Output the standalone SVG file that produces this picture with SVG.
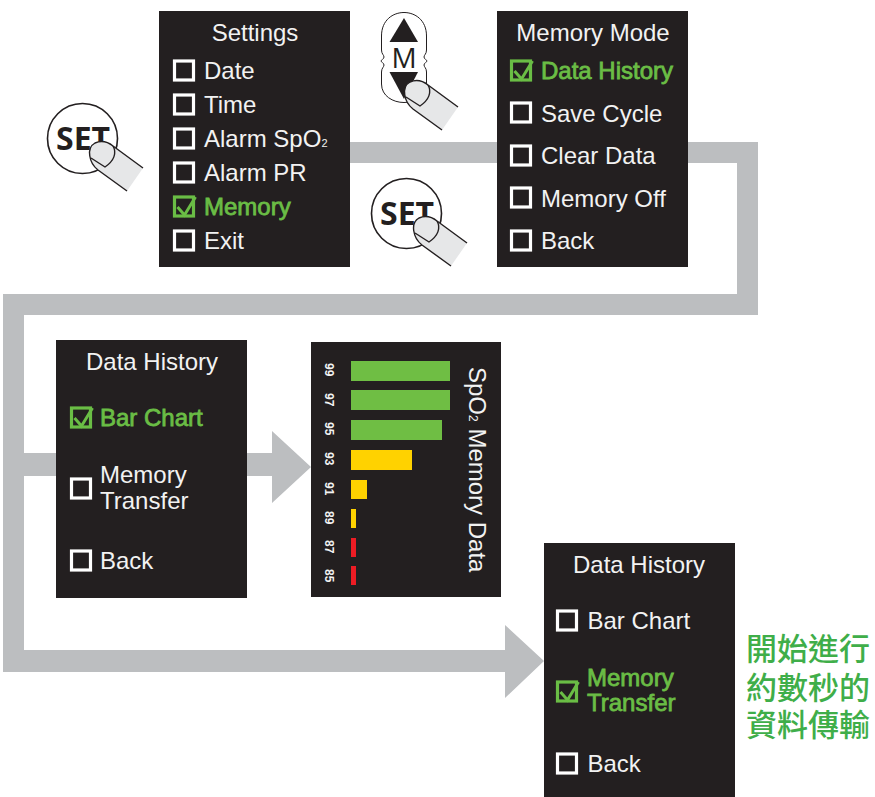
<svg xmlns="http://www.w3.org/2000/svg" width="875" height="797" viewBox="0 0 875 797">
<style>
text{font-family:"Liberation Sans",Arial,sans-serif;fill:#f2f2f2;font-size:24px}
.g{fill:#6abd45;stroke:#6abd45;stroke-width:.8}
.panel{fill:#231f20}
.cb{fill:none;stroke:#fff;stroke-width:3.2}
.cbg{fill:none;stroke:#6abd45;stroke-width:3.2}
.chk{fill:none;stroke:#6abd45;stroke-width:3}
.flow{fill:#bcbec0}
.btn{fill:#fff;stroke:#231f20;stroke-width:1.6}
.fng{fill:#e6e7e8}
.ln{fill:none;stroke:#231f20;stroke-width:1.4}
.set{font-family:"Open Sans","Liberation Sans",sans-serif;font-weight:bold;font-size:32px;fill:#231f20}
.mkey{font-family:"Open Sans","Liberation Sans",sans-serif;font-size:28px;fill:#231f20}
.cjk{font-family:"Noto Sans CJK TC",sans-serif;font-size:31px;font-weight:500;fill:#3fae49}
.num{font-size:12px;font-weight:bold}
.sub{font-size:12px}
.sub2{font-size:11px}
</style>
<defs>
<g id="finger">
<path class="fng" d="M3 0C10 -3 16 -1 21 3L51 25L35 48L6 27C-3 20 -6 5 3 0Z"/>
<path class="ln" d="M35 48L6 27C-3 20 -6 5 3 0C10 -3 16 -1 21 3L51 25"/>
<path class="ln" d="M21 3C25 10 22 18 13 24L-1 15"/>
</g>
<g id="setbtn">
<circle class="btn" cx="35.500" cy="35.500" r="35"/>
<text class="set" x="9" y="47">SET</text>
<use href="#finger" x="45" y="40"/>
</g>
</defs>
<g id="connectors">
<path class="flow" d="M340 142H758V315H24V453H272V431L311 467L272 503V476H24V650H505V625L544 661L505 698V672H3V294H737V163H340Z"/>
</g>
<g id="set-button-1"><use href="#setbtn" x="47" y="103"/></g>
<g id="settings-panel">
<rect class="panel" x="159" y="11" width="191" height="256"/>
<text x="255" y="41" text-anchor="middle">Settings</text>
<rect class="cb" x="174.500" y="61" width="19" height="19"/><text x="204" y="79">Date</text>
<rect class="cb" x="174.500" y="95" width="19" height="19"/><text x="204" y="113">Time</text>
<rect class="cb" x="174.500" y="129" width="19" height="19"/><text x="204" y="147">Alarm SpO<tspan class="sub2">2</tspan></text>
<rect class="cb" x="174.500" y="163" width="19" height="19"/><text x="204" y="181">Alarm PR</text>
<rect class="cbg" x="174.500" y="197" width="19" height="19"/><path class="chk" d="M177.500 207L184.500 215L195.500 197"/><text class="g" x="204" y="215">Memory</text>
<rect class="cb" x="174.500" y="231" width="19" height="19"/><text x="204" y="249">Exit</text>
</g>
<g id="m-button">
<path d="M404 12.500C393 12.500 381.500 20 381.500 36V50C381.500 54 384 55 384 57C384 59 381 60 381 61C381 62 384 63 384 65C384 67 381.500 68 381.500 72V84C381.500 96 393 102.500 404 102.500C415 102.500 426.500 96 426.500 84V72C426.500 68 424 67 424 65C424 63 427 62 427 61C427 60 424 59 424 57C424 55 426.500 54 426.500 50V36C426.500 20 415 12.500 404 12.500Z" fill="#fff" stroke="#231f20" stroke-width="1"/>
<path d="M404 18L418 42H389.500Z" fill="#231f20"/>
<path d="M389.500 72H418L404 99Z" fill="#231f20"/>
<text class="mkey" x="404" y="68" text-anchor="middle">M</text>
<use href="#finger" x="407" y="82"/>
</g>
<g id="memory-mode-panel">
<rect class="panel" x="497" y="11" width="191" height="256"/>
<text x="593" y="41" text-anchor="middle">Memory Mode</text>
<rect class="cbg" x="511.500" y="61" width="19" height="19"/><path class="chk" d="M514.500 71L521.500 79L532.500 61"/><text class="g" x="541" y="79">Data History</text>
<rect class="cb" x="511.500" y="103" width="19" height="19"/><text x="541" y="122">Save Cycle</text>
<rect class="cb" x="511.500" y="146" width="19" height="19"/><text x="541" y="164">Clear Data</text>
<rect class="cb" x="511.500" y="188" width="19" height="19"/><text x="541" y="207">Memory Off</text>
<rect class="cb" x="511.500" y="231" width="19" height="19"/><text x="541" y="249">Back</text>
</g>
<g id="set-button-2"><use href="#setbtn" x="371" y="178"/></g>
<g id="data-history-panel-1">
<rect class="panel" x="56" y="340" width="191" height="258"/>
<text x="152" y="370" text-anchor="middle">Data History</text>
<rect class="cbg" x="71.500" y="408" width="19" height="19"/><path class="chk" d="M74.500 418L81.500 426L92.500 408"/><text class="g" x="100" y="426">Bar Chart</text>
<rect class="cb" x="71.500" y="479" width="19" height="19"/><text x="100" y="483">Memory</text><text x="100" y="509">Transfer</text>
<rect class="cb" x="71.500" y="551" width="19" height="19"/><text x="100" y="569">Back</text>
</g>
<g id="spo2-chart">
<rect class="panel" x="311" y="342" width="190" height="255"/>
<rect x="351" y="361" width="99" height="20" fill="#6fbe44"/>
<rect x="351" y="390" width="99" height="20" fill="#6fbe44"/>
<rect x="351" y="420" width="91" height="20" fill="#6fbe44"/>
<rect x="351" y="450" width="61" height="20" fill="#ffd200"/>
<rect x="351" y="480" width="16" height="19" fill="#ffd200"/>
<rect x="351" y="509" width="5" height="19" fill="#ffd200"/>
<rect x="351" y="538" width="5" height="19" fill="#ed1c24"/>
<rect x="351" y="566" width="5" height="19" fill="#ed1c24"/>
<text class="num" transform="translate(325 363) rotate(90)">99</text>
<text class="num" transform="translate(325 393) rotate(90)">97</text>
<text class="num" transform="translate(325 422) rotate(90)">95</text>
<text class="num" transform="translate(325 452) rotate(90)">93</text>
<text class="num" transform="translate(325 482) rotate(90)">91</text>
<text class="num" transform="translate(325 511) rotate(90)">89</text>
<text class="num" transform="translate(325 540) rotate(90)">87</text>
<text class="num" transform="translate(325 569) rotate(90)">85</text>
<text transform="translate(469 367) rotate(90)">SpO<tspan class="sub">2</tspan> Memory Data</text>
</g>
<g id="data-history-panel-2">
<rect class="panel" x="544" y="543" width="191" height="254"/>
<text x="639" y="573" text-anchor="middle">Data History</text>
<rect class="cb" x="557.500" y="611" width="19" height="19"/><text x="587.500" y="629">Bar Chart</text>
<rect class="cbg" x="557.500" y="682" width="19" height="19"/><path class="chk" d="M560.500 692L567.500 700L578.500 682"/><text class="g" x="587" y="686">Memory</text><text class="g" x="587" y="711">Transfer</text>
<rect class="cb" x="557.500" y="754" width="19" height="19"/><text x="587.500" y="772">Back</text>
</g>
<g id="note">
<text class="cjk" x="746" y="660">開始進行</text>
<text class="cjk" x="746" y="699">約數秒的</text>
<text class="cjk" x="746" y="736">資料傳輸</text>
</g>
</svg>
